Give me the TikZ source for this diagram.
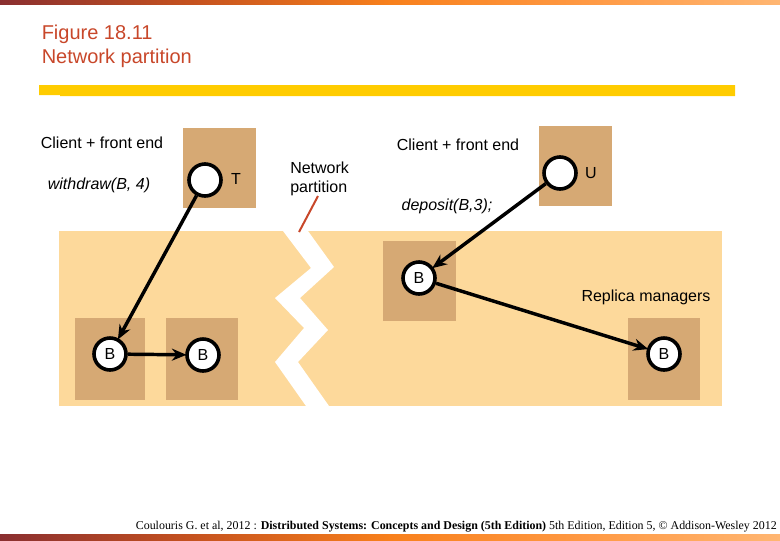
\documentclass[tikz,border=0pt]{standalone}
\usepackage{fontspec}
\setmainfont{Liberation Sans}
\newfontfamily\footfont{Liberation Serif}
\usepackage{tikz}
\usetikzlibrary{arrows.meta}

\definecolor{titlered}{HTML}{C8472A}
\definecolor{barGold}{HTML}{FFCC00}
\definecolor{zoneTan}{HTML}{FDD99B}
\definecolor{boxBrown}{HTML}{D6A974}
\definecolor{bandA}{HTML}{8A2F30}
\definecolor{bandB}{HTML}{C4511F}
\definecolor{bandC}{HTML}{F8801C}
\definecolor{bandD}{HTML}{FF9A45}
\definecolor{bandE}{HTML}{FFB672}
\pgfdeclarehorizontalshading{bandshade}{100bp}{
  color(0bp)=(bandA);
  color(25bp)=(bandA);
  color(37bp)=(bandB);
  color(50bp)=(bandC);
  color(63bp)=(bandD);
  color(75bp)=(bandE);
  color(100bp)=(bandE)}

\tikzset{
    label text/.style={font=\fontsize{12}{14}\selectfont, inner sep=0pt},
    call text/.style={label text, font=\fontsize{12}{14}\selectfont\itshape},
    process/.style={circle, draw=black, fill=white, line width=2.7pt, minimum size=24pt, inner sep=0pt, font=\fontsize{12}{14}\selectfont},
    request/.style={-{Stealth[length=11pt, width=9pt]}, line width=2.6pt, shorten >=-1pt}
}

\begin{document}
\begin{tikzpicture}[x=0.75pt, y=-0.75pt]
        \useasboundingbox (0,0) rectangle (780,540);

        % Bands at top and bottom
        \fill[shading=bandshade] (0,0) rectangle (780,4);
        \fill[shading=bandshade] (0,534) rectangle (780,540);

        % Title
        \node[anchor=north west, inner sep=0pt, text=titlered, align=left, font=\fontsize{15}{18}\selectfont] (title) at (41.5,25) {Figure 18.11\\Network partition};
        \fill[barGold] (60,85) -- (735,85) -- (735,96) -- (60,96) -- (60,95) -- (39,95) -- (39,85) -- cycle;

        % Replica manager zone with the break in it
        \fill[zoneTan] (59,231) rectangle (722,406);
        \fill[white] (283,231) -- (311,268) -- (275,298) -- (304,328) -- (275,362) -- (306,406)
            -- (329,406) -- (298,362) -- (328,330) -- (300,298) -- (334,267) -- (308,231) -- cycle;

        % Boxes
        \foreach \x/\y in {183/128, 539/126, 383/241} {
            \fill[boxBrown] (\x,\y) rectangle (\x+72.5,\y+80);
        }
        \foreach \x/\w in {75/70, 166/72, 628/72} {
            \fill[boxBrown] (\x,318) rectangle (\x+\w,400);
        }

        % Processes
        \node[process] (clientT) at (205,180) {};
        \node[process] (clientU) at (560,173) {};
        \node[process] (replicaM) at (419,278) {B};
        \node[process] (replicaA) at (110,354) {B};
        \node[process] (replicaB) at (203,355) {B};
        \node[process] (replicaC) at (664,354) {B};

        % Requests
        \draw[request] (clientT) -- (replicaA);
        \draw[request] (replicaA) -- (replicaB);
        \draw[request] (clientU) -- (replicaM);
        \draw[request] (replicaM) -- (replicaC);

        % Labels
        \node[label text] (clientL) at (102,143) {Client + front end};
        \node[label text] (clientR) at (458,145) {Client + front end};
        \node[call text] (withdraw) at (99,185) {withdraw(B, 4)};
        \node[call text] (deposit) at (447,206) {deposit(B,3);};
        \node[label text] (nameT) at (236,179) {T};
        \node[label text] (nameU) at (591,173) {U};
        \node[label text] (managers) at (646,297) {Replica managers};
        \node[label text, anchor=north west, align=left] (partition) at (290,162) {Network\\partition};

        % Pointer to the break
        \coordinate (pointerEnd) at (299,232);
        \draw[titlered, line width=1.5pt] (318,196) -- (pointerEnd);

        % Footer
        \node[anchor=east, inner sep=0pt, font=\footfont\fontsize{8.95}{11}\selectfont] (source) at (777,526.5) {Coulouris G. et al, 2012 : \textbf{Distributed Systems: Concepts and Design (5th Edition)} 5th Edition, Edition 5, \textcopyright{} Addison-Wesley 2012};
\end{tikzpicture}
\end{document}
